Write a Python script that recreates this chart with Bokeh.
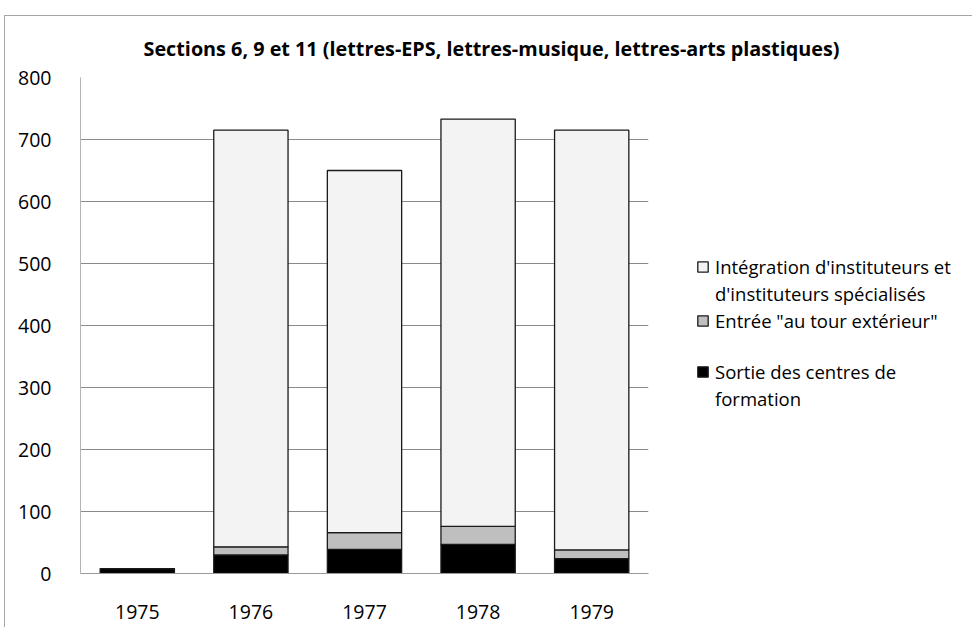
from bokeh.plotting import figure
from bokeh.models import Legend, LegendItem, FactorRange
from bokeh.embed import file_html
from bokeh.resources import INLINE

years = ["1975", "1976", "1977", "1978", "1979"]
sortie = [8, 30, 39, 47, 24]
entree = [0, 13, 27, 29, 14]
integration = [0, 672, 584, 657, 677]

series = ["sortie", "entree", "integration"]
colors = ["#000000", "#bfbfbf", "#f3f3f3"]
legend_lines = [
    ("integration", "Intégration d'instituteurs et"),
    (None, "d'instituteurs spécialisés"),
    ("entree", "Entrée \"au tour extérieur\""),
    (None, " "),
    ("sortie", "Sortie des centres de"),
    (None, "formation"),
]
title_text = "Sections 6, 9 et 11 (lettres-EPS, lettres-musique, lettres-arts plastiques)"
y_ticks = [0, 100, 200, 300, 400, 500, 600, 700, 800]

FONT = "Open Sans"

p = figure(
    x_range=FactorRange(*years), y_range=(0, 800),
    frame_width=568, frame_height=496,
    min_border_left=80, min_border_top=77, min_border_right=10, min_border_bottom=54,
    output_backend="svg", toolbar_location=None,
)
p.styles = {
    "background": "linear-gradient(#a6a6a6, #a6a6a6) 4px 15px / 1px calc(100% - 15px) no-repeat, "
                  "linear-gradient(#a6a6a6, #a6a6a6) 4px 15px / calc(100% - 4px) 1px no-repeat, #ffffff"
}
p.outline_line_color = None
p.background_fill_color = "white"
p.border_fill_color = None

data = dict(years=years, sortie=sortie, entree=entree, integration=integration)
rs = p.vbar_stack(series, x="years", width=0.654, source=data,
                  fill_color=colors, line_color="#1a1a1a", line_width=1.3)
by_name = dict(zip(series, rs))
blank = p.vbar(x=[], top=[], width=0.5, fill_alpha=0, line_alpha=0)

# title
p.title.text = title_text
p.title.align = "left"
p.title.offset = 63
p.title.standoff = 31
p.title.text_font = FONT
p.title.text_font_size = "19.8px"
p.title.text_font_style = "bold"
p.title.text_color = "#000000"

# axes & grid
p.xgrid.grid_line_color = None
p.ygrid.grid_line_color = "#8a8a8a"
p.ygrid.grid_line_width = 1
p.yaxis.ticker = y_ticks
p.yaxis.axis_line_color = "#b3b3b3"
p.xaxis.axis_line_color = "#9a9a9a"
for ax in (p.xaxis, p.yaxis):
    ax.major_tick_line_color = None
    ax.minor_tick_line_color = None
    ax.major_label_text_font = FONT
    ax.major_label_text_font_size = "19.5px"
    ax.major_label_text_color = "#000000"
p.yaxis.major_label_standoff = 23
p.xaxis.major_label_standoff = 25

# legend
items = []
for key, lab in legend_lines:
    r = by_name[key] if key else blank
    items.append(LegendItem(label=lab, renderers=[r]))
lg = Legend(items=items, location=(48, 162), orientation="vertical",
            padding=0, margin=0, spacing=2,
            glyph_width=13, glyph_height=13, label_standoff=6, label_height=22,
            label_text_font=FONT, label_text_font_size="18.5px", label_text_color="#000000",
            border_line_color=None, background_fill_alpha=0)
p.add_layout(lg, "right")

open("out.html", "w").write(file_html(p, INLINE))
